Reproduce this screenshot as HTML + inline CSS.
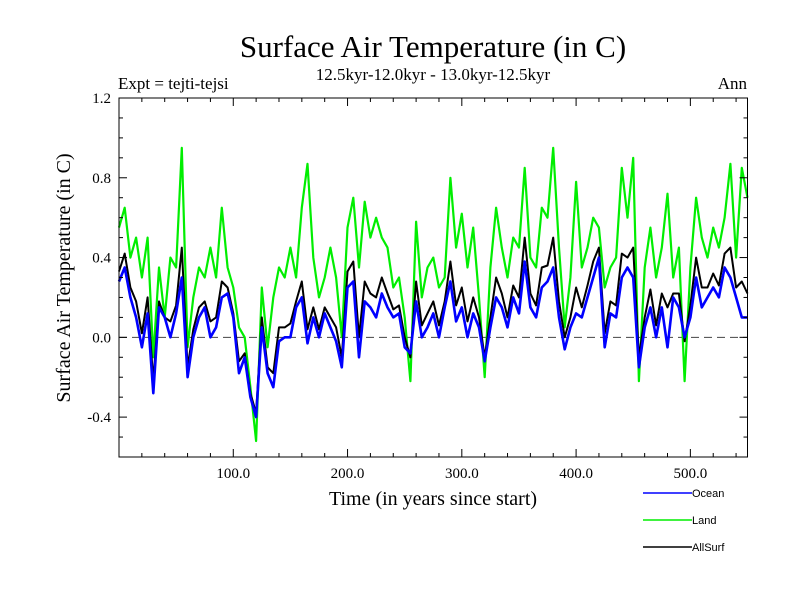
<!DOCTYPE html>
<html><head><meta charset="utf-8"><style>
body{margin:0;background:#fff;}
svg{display:block;}
</style></head><body>
<svg width="800" height="600" xmlns="http://www.w3.org/2000/svg">
<rect width="800" height="600" fill="#fff"/>
<text x="433" y="57" font-family="Liberation Serif, serif" font-size="31" text-anchor="middle">Surface Air Temperature (in C)</text>
<text x="433" y="80" font-family="Liberation Serif, serif" font-size="17" text-anchor="middle">12.5kyr-12.0kyr - 13.0kyr-12.5kyr</text>
<text x="118" y="89" font-family="Liberation Serif, serif" font-size="17">Expt = tejti-tejsi</text>
<text x="747" y="89" font-family="Liberation Serif, serif" font-size="17" text-anchor="end">Ann</text>
<text transform="translate(70,278) rotate(-90)" font-family="Liberation Serif, serif" font-size="20" text-anchor="middle">Surface Air Temperature (in C)</text>
<text x="433" y="505" font-family="Liberation Serif, serif" font-size="20" text-anchor="middle">Time (in years since start)</text>
<g id="plot"></g>
<g id="axes"></g>
<g font-family="Liberation Sans, sans-serif" font-size="11">
<line x1="643" y1="493" x2="692" y2="493" stroke="#0000ff" stroke-width="1.5"/>
<text x="692" y="497">Ocean</text>
<line x1="643" y1="520" x2="692" y2="520" stroke="#00ee00" stroke-width="1.5"/>
<text x="692" y="524">Land</text>
<line x1="643" y1="547" x2="692" y2="547" stroke="#000" stroke-width="1.5"/>
<text x="692" y="551">AllSurf</text>
</g>
</svg>
<script>
const years=[];for(let y=0;y<=550;y+=5)years.push(y);
const ocean=[0.28,0.35,0.2,0.1,-0.05,0.12,-0.28,0.15,0.1,0.0,0.12,0.3,-0.2,0.0,0.1,0.15,0.0,0.05,0.2,0.22,0.1,-0.18,-0.1,-0.3,-0.4,0.05,-0.18,-0.25,-0.02,0.0,0.0,0.15,0.2,-0.03,0.1,0.0,0.12,0.05,-0.02,-0.15,0.25,0.28,-0.1,0.18,0.15,0.1,0.22,0.15,0.1,0.12,-0.05,-0.08,0.18,0.0,0.05,0.12,0.0,0.15,0.28,0.08,0.15,0.0,0.12,0.05,-0.12,0.05,0.2,0.15,0.05,0.2,0.12,0.38,0.15,0.1,0.25,0.28,0.35,0.1,-0.06,0.05,0.12,0.1,0.2,0.3,0.4,-0.05,0.12,0.1,0.3,0.35,0.3,-0.15,0.05,0.15,0.0,0.15,-0.05,0.2,0.15,0.0,0.1,0.3,0.15,0.2,0.25,0.2,0.35,0.3,0.2,0.1,0.1];
const land=[0.55,0.65,0.4,0.5,0.3,0.5,-0.1,0.35,0.1,0.4,0.35,0.95,-0.05,0.2,0.35,0.3,0.45,0.3,0.65,0.35,0.25,0.05,0.0,-0.25,-0.52,0.25,-0.05,0.2,0.35,0.3,0.45,0.3,0.65,0.87,0.4,0.2,0.3,0.45,0.3,0.0,0.55,0.7,0.35,0.68,0.5,0.6,0.5,0.45,0.25,0.3,0.1,-0.22,0.58,0.2,0.35,0.4,0.25,0.3,0.8,0.45,0.62,0.35,0.55,0.2,-0.2,0.35,0.65,0.45,0.3,0.5,0.45,0.85,0.4,0.35,0.65,0.6,0.95,0.45,0.05,0.3,0.78,0.35,0.45,0.6,0.55,0.25,0.35,0.4,0.85,0.6,0.9,-0.22,0.35,0.55,0.3,0.45,0.72,0.3,0.45,-0.22,0.35,0.7,0.5,0.4,0.55,0.45,0.6,0.87,0.4,0.85,0.7];
const allsurf=[0.33,0.42,0.25,0.18,0.02,0.2,-0.22,0.18,0.1,0.08,0.16,0.45,-0.15,0.04,0.15,0.18,0.08,0.1,0.28,0.25,0.12,-0.12,-0.08,-0.28,-0.38,0.1,-0.15,-0.18,0.05,0.05,0.07,0.18,0.28,0.04,0.15,0.04,0.15,0.1,0.05,-0.1,0.33,0.38,0.0,0.28,0.22,0.2,0.3,0.22,0.14,0.16,0.0,-0.1,0.28,0.06,0.12,0.18,0.06,0.18,0.38,0.16,0.25,0.08,0.2,0.1,-0.1,0.1,0.3,0.22,0.1,0.26,0.2,0.5,0.22,0.16,0.35,0.36,0.5,0.18,0.0,0.1,0.25,0.15,0.26,0.38,0.45,0.02,0.18,0.16,0.42,0.4,0.45,-0.1,0.1,0.24,0.06,0.22,0.15,0.22,0.22,-0.02,0.16,0.4,0.25,0.25,0.32,0.26,0.42,0.45,0.25,0.28,0.22];
const yTicks=[-0.4,0.0,0.4,0.8,1.2];
const yTickLabels=["-0.4","0.0","0.4","0.8","1.2"];
const xTicks=[100,200,300,400,500];
const xTickLabels=["100.0","200.0","300.0","400.0","500.0"];
const L=119,R=747.5,T=98,B=457,X0=0,X1=550,Y0=-0.6,Y1=1.2;
const sx=v=>L+(v-X0)/(X1-X0)*(R-L);
const sy=v=>B-(v-Y0)/(Y1-Y0)*(B-T);
const NS="http://www.w3.org/2000/svg";
function mk(t,a,p){const e=document.createElementNS(NS,t);for(const k in a)e.setAttribute(k,a[k]);p.appendChild(e);return e;}
const plot=document.getElementById('plot'),axes=document.getElementById('axes');
const zl=mk('line',{x1:L,x2:R,y1:sy(0),y2:sy(0),stroke:'#444','stroke-width':1,'stroke-dasharray':'8,5'},plot);


function series(vals,color,w,name){
 const d=vals.map((v,i)=>(i?'L':'M')+sx(years[i]).toFixed(1)+','+sy(v).toFixed(1)).join('');
 const p=mk('path',{d:d,fill:'none',stroke:color,'stroke-width':w,'stroke-linejoin':'round'},plot);
 
 
}
series(land,'#00ee00',2.2,'land-series');
series(allsurf,'#000000',2,'allsurf-series');
series(ocean,'#0000ff',2.6,'ocean-series');
const fr=mk('rect',{x:L,y:T,width:R-L,height:B-T,fill:'none',stroke:'#000','stroke-width':1},axes);


for(let v=20;v<550;v+=20){const x=sx(v),len=(v%100===0)?8:4;
 mk('line',{x1:x,x2:x,y1:B,y2:B-len,stroke:'#000'},axes);
 mk('line',{x1:x,x2:x,y1:T,y2:T+len,stroke:'#000'},axes);}
for(let k=-5;k<12;k++){const v=k/10,y=sy(v),len=(k%4===0)?8:4;
 mk('line',{x1:L,x2:L+len,y1:y,y2:y,stroke:'#000'},axes);
 mk('line',{x1:R,x2:R-len,y1:y,y2:y,stroke:'#000'},axes);}
xTicks.forEach((v,i)=>{const t=mk('text',{x:sx(v),y:B+21,'text-anchor':'middle','font-family':'Liberation Serif, serif','font-size':15},axes);t.textContent=xTickLabels[i];
 
 });
yTicks.forEach((v,i)=>{const t=mk('text',{x:L-8,y:sy(v)+5,'text-anchor':'end','font-family':'Liberation Serif, serif','font-size':15},axes);t.textContent=yTickLabels[i];
 
 });
</script>
</body></html>
